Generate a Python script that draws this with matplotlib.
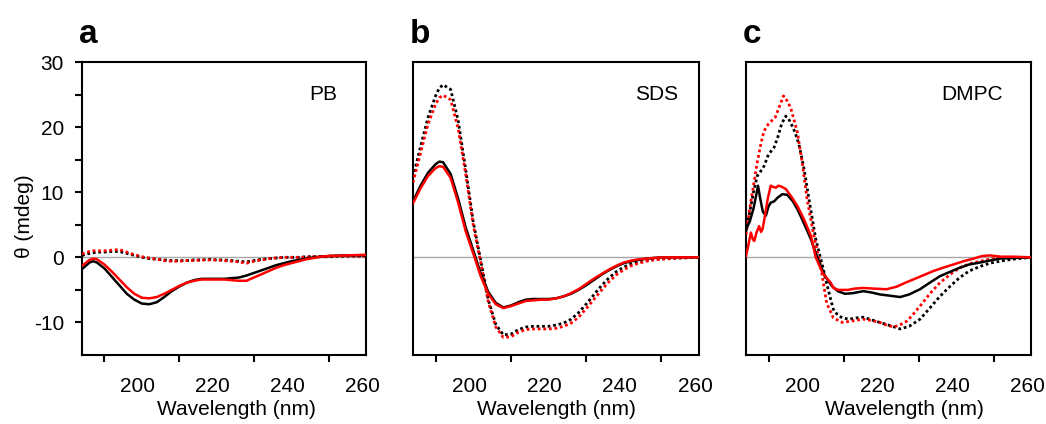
"""CD spectra of the peptide in PB, SDS micelles and DMPC vesicles (panels a-c)."""
import matplotlib
matplotlib.use("Agg")
import matplotlib.pyplot as plt
from matplotlib.ticker import FixedLocator
from matplotlib.transforms import ScaledTranslation

plt.rcParams["font.family"] = ["Liberation Sans", "DejaVu Sans"]
plt.rcParams["axes.unicode_minus"] = False

# ---- panel a: PB ----
pb_wl = [184, 186, 187, 188, 190, 192, 194, 196, 198, 200, 202, 204, 206, 208, 210,
         212, 214, 216, 218, 220, 222, 224, 226, 228, 230, 232, 234, 236, 238, 240,
         242, 244, 246, 248, 250, 255, 260]
pb_black = [-1.8, -0.8, -0.6, -0.8, -1.7, -3.0, -4.3, -5.6, -6.5, -7.1, -7.2, -6.9, -6.1, -5.2, -4.5,
            -3.9, -3.5, -3.3, -3.3, -3.3, -3.3, -3.2, -3.1, -2.8, -2.4, -2.0, -1.6, -1.2, -0.9, -0.6,
            -0.4, -0.2, 0.0, 0.1, 0.2, 0.3, 0.3]
pb_red = [-1.3, -0.4, -0.2, -0.3, -1.1, -2.2, -3.4, -4.6, -5.6, -6.2, -6.3, -6.1, -5.6, -5.0, -4.4,
          -3.9, -3.6, -3.4, -3.4, -3.4, -3.4, -3.5, -3.6, -3.6, -3.1, -2.6, -2.1, -1.6, -1.2, -0.9,
          -0.6, -0.3, -0.1, 0.1, 0.2, 0.3, 0.4]
pb_black_dot = [0.3, 0.6, 0.7, 0.8, 0.8, 0.9, 0.9, 0.6, 0.3, 0.0, -0.2, -0.3, -0.4, -0.5, -0.5,
                -0.5, -0.4, -0.4, -0.3, -0.4, -0.4, -0.5, -0.6, -0.7, -0.5, -0.3, -0.2, -0.1, 0.0, 0.0,
                0.0, 0.1, 0.1, 0.1, 0.1, 0.2, 0.2]
pb_red_dot = [0.5, 0.9, 1.0, 1.0, 1.0, 1.1, 1.2, 0.8, 0.4, 0.1, -0.1, -0.3, -0.5, -0.6, -0.6,
              -0.5, -0.5, -0.4, -0.4, -0.4, -0.5, -0.6, -0.7, -0.9, -0.6, -0.4, -0.2, -0.1, 0.0, 0.0,
              0.0, 0.0, 0.1, 0.1, 0.2, 0.2, 0.2]

# ---- panel b: SDS ----
sds_wl = [184, 186, 188, 190, 191, 192, 194, 196, 198, 200, 202, 204, 206, 208, 210,
          212, 214, 216, 218, 220, 222, 224, 226, 228, 230, 232, 234, 236, 238, 240,
          242, 244, 246, 248, 250, 255, 260]
sds_black = [8.6, 11.0, 13.0, 14.3, 14.7, 14.6, 12.8, 9.0, 4.6, 1.1, -2.5, -5.3, -7.0, -7.7, -7.4,
             -6.9, -6.5, -6.4, -6.4, -6.4, -6.3, -6.0, -5.6, -5.0, -4.3, -3.5, -2.7, -2.0, -1.4, -0.9,
             -0.6, -0.4, -0.2, -0.1, 0.0, 0.0, 0.0]
sds_red = [8.3, 10.6, 12.5, 13.7, 14.0, 13.9, 12.2, 8.4, 4.0, 0.6, -2.9, -5.6, -7.2, -7.8, -7.5,
           -7.1, -6.7, -6.6, -6.5, -6.5, -6.3, -6.0, -5.5, -4.9, -4.1, -3.3, -2.6, -1.9, -1.3, -0.8,
           -0.5, -0.3, -0.2, -0.1, 0.0, 0.0, 0.0]
sds_black_dot = [12.3, 17.0, 21.5, 24.8, 26.0, 26.5, 25.8, 21.0, 13.5, 5.5, -0.5, -6.5, -10.3, -11.9, -11.8,
                 -11.1, -10.7, -10.6, -10.6, -10.6, -10.4, -10.1, -9.5, -8.5, -7.2, -5.8, -4.4, -3.2, -2.2, -1.5,
                 -1.0, -0.7, -0.5, -0.3, -0.2, -0.1, 0.0]
sds_red_dot = [11.5, 16.0, 20.5, 23.5, 24.5, 24.9, 24.2, 19.8, 12.8, 5.0, -0.8, -6.8, -10.7, -12.3, -12.2,
               -11.5, -11.1, -11.0, -11.0, -11.0, -10.9, -10.6, -10.1, -9.2, -7.9, -6.5, -5.1, -3.8, -2.7, -1.9,
               -1.3, -0.9, -0.6, -0.4, -0.3, -0.1, 0.0]

# ---- panel c: DMPC (noisier, own sampling per trace) ----
dmpc_black_wl = [184, 185, 186, 186.7, 187.2, 187.8, 188.5, 189.3, 190, 190.6, 191.5, 192.5, 193.7, 195,
                 196.5, 197.7, 199, 200, 201.3, 203, 205, 206.9, 208.5, 210.4, 212.5, 215.3, 217.5, 219.7,
                 222.5, 225.1, 227.5, 230.4, 233, 235.7, 238.5, 241, 243.5, 246.4, 249, 251.7, 255, 260]
dmpc_black = [4.3, 5.5, 7.5, 9.5, 11.0, 9.0, 7.0, 6.4, 7.8, 8.4, 8.6, 9.2, 9.7, 9.6,
              8.6, 7.4, 5.8, 4.5, 2.8, 0.0, -2.8, -4.4, -5.2, -5.6, -5.5, -5.2, -5.4, -5.7,
              -5.9, -6.1, -5.7, -4.9, -3.9, -2.9, -2.2, -1.6, -1.1, -0.8, -0.5, -0.2, -0.1, 0.0]
dmpc_red_wl = [184, 184.5, 185.3, 185.8, 186.2, 186.8, 187.5, 188, 188.4, 188.8, 189.2, 189.8, 190.6, 191.3,
               192, 192.6, 193.3, 194.6, 196, 197.7, 199.5, 201.3, 202.6, 204.5, 206.6, 207.3, 208.6, 211.2,
               213, 215.3, 218, 221.5, 224.2, 226.5, 228.6, 231.5, 234, 236.5, 239.3, 242, 244.6, 247,
               249, 252, 255, 260]
dmpc_red = [0.2, 1.5, 3.8, 2.8, 2.5, 3.8, 4.8, 3.9, 4.3, 5.5, 6.9, 9.0, 11.0, 10.8,
            10.7, 11.0, 10.9, 10.5, 9.4, 7.9, 5.8, 3.3, 0.0, -2.5, -3.9, -4.7, -5.0, -5.0,
            -4.8, -4.7, -4.8, -4.9, -4.5, -3.9, -3.4, -2.7, -2.1, -1.6, -1.1, -0.6, -0.2, 0.2,
            0.3, 0.1, 0.1, 0.0]
dmpc_black_dot_wl = [184, 185, 186, 187, 188, 188.8, 190, 191.5, 192.5, 193.5, 194.6, 195.3, 195.9, 197,
                     198.1, 199.5, 200.8, 202.6, 204.4, 205.5, 206.6, 207.3, 208.5, 209.7, 211.5, 213.5,
                     215.3, 217.5, 219.7, 222.5, 225.1, 227.5, 230.4, 233, 235.7, 238.5, 241, 243.5,
                     246.4, 249, 251.7, 255, 260]
dmpc_black_dot = [4.0, 7.0, 10.0, 12.5, 13.3, 14.0, 15.8, 16.9, 18.5, 20.5, 21.7, 21.3, 20.7, 19.3,
                  17.4, 13.5, 8.9, 2.8, -1.3, -4.0, -6.5, -8.0, -8.9, -9.3, -9.5, -9.3,
                  -9.2, -9.6, -10.0, -10.5, -11.0, -10.6, -9.5, -7.8, -6.0, -4.4, -3.1, -2.1,
                  -1.4, -0.9, -0.6, -0.3, 0.0]
dmpc_red_dot_wl = [184, 185, 186, 187, 188, 188.8, 190, 191.8, 193, 194, 195, 195.9, 197.7, 199,
                   200.3, 202.1, 203.9, 205.5, 207.3, 209.7, 212, 215.3, 217.5, 219.7, 221.5, 223.3,
                   225, 226.9, 228.5, 230.4, 233, 235.7, 238.5, 241, 243.5, 246.4, 249, 251.7, 255, 260]
dmpc_red_dot = [3.5, 7.5, 11.0, 14.6, 17.5, 19.4, 20.5, 21.5, 23.3, 24.8, 24.0, 23.0, 19.2, 14.5,
                8.9, 3.3, -1.3, -7.0, -9.3, -10.0, -9.8, -9.5, -9.7, -10.0, -10.4, -10.7,
                -10.4, -9.8, -8.8, -7.5, -5.6, -3.9, -2.6, -1.6, -1.0, -0.6, -0.3, -0.1, 0.0, 0.0]

RED = "#ff0000"
DOT = (0, (1, 1))


def setup_axes(fig, ax, first):
    ax.set_xlim(184, 260)
    ax.set_ylim(-15, 30)
    ax.axhline(0, color="#a8a8a8", lw=1.0, zorder=1)
    for sp in ax.spines.values():
        sp.set_linewidth(1.5)
    ax.xaxis.set_major_locator(FixedLocator([200, 220, 240, 260]))
    ax.xaxis.set_minor_locator(FixedLocator([190, 210, 230, 250]))
    ax.tick_params(axis="x", which="major", length=0, pad=16, labelsize=15)
    ax.tick_params(axis="x", which="minor", length=5, width=1.5, direction="out")
    # labels in the original sit a few pixels left of their ticks
    shift = ScaledTranslation(-4 / 100, 0, fig.dpi_scale_trans)
    for lab in ax.get_xticklabels():
        lab.set_transform(lab.get_transform() + shift)
    ax.set_xlabel("Wavelength (nm)", fontsize=15)
    if first:
        ax.yaxis.set_major_locator(FixedLocator([-10, 0, 10, 20, 30]))
        ax.yaxis.set_minor_locator(FixedLocator([-5, 5, 15, 25]))
        ax.tick_params(axis="y", which="both", length=5, width=1.5, direction="out", pad=8, labelsize=15)
        ax.set_ylabel("θ (mdeg)", fontsize=15)
        ax.yaxis.set_label_coords(-0.17, 0.475)
    else:
        ax.set_yticks([])


def main():
    fig = plt.figure(figsize=(10.46, 4.24), dpi=100)
    lefts = [82, 413, 746]
    widths = [284, 286, 285]
    axes = [fig.add_axes([l / 1046, 69 / 424, w / 1046, 293 / 424]) for l, w in zip(lefts, widths)]

    panels = [
        ("a", "PB", 0.90, 0.545,
         [(pb_wl, pb_black_dot, "k", DOT), (pb_wl, pb_red_dot, RED, DOT),
          (pb_wl, pb_black, "k", "-"), (pb_wl, pb_red, RED, "-")]),
        ("b", "SDS", 0.927, 0.5,
         [(sds_wl, sds_black_dot, "k", DOT), (sds_wl, sds_red_dot, RED, DOT),
          (sds_wl, sds_black, "k", "-"), (sds_wl, sds_red, RED, "-")]),
        ("c", "DMPC", 0.902, 0.555,
         [(dmpc_black_dot_wl, dmpc_black_dot, "k", DOT), (dmpc_red_dot_wl, dmpc_red_dot, RED, DOT),
          (dmpc_black_wl, dmpc_black, "k", "-"), (dmpc_red_wl, dmpc_red, RED, "-")]),
    ]

    for i, (ax, (letter, name, tx, xlab_x, traces)) in enumerate(zip(axes, panels)):
        setup_axes(fig, ax, i == 0)
        for wl, val, col, ls in traces:
            lw = 2.0 if ls == DOT else 1.8
            ax.plot(wl, val, color=col, ls=ls, lw=lw, zorder=3)
        ax.text(tx, 0.87, name, transform=ax.transAxes, ha="right", va="baseline", fontsize=15)
        ax.xaxis.set_label_coords(xlab_x, -0.155)
        fig.text((lefts[i] - 3) / 1046, (424 - 43) / 424, letter, fontsize=24,
                 fontweight="bold", ha="left", va="baseline")

    fig.savefig("out.png", dpi=100)


if __name__ == "__main__":
    main()
